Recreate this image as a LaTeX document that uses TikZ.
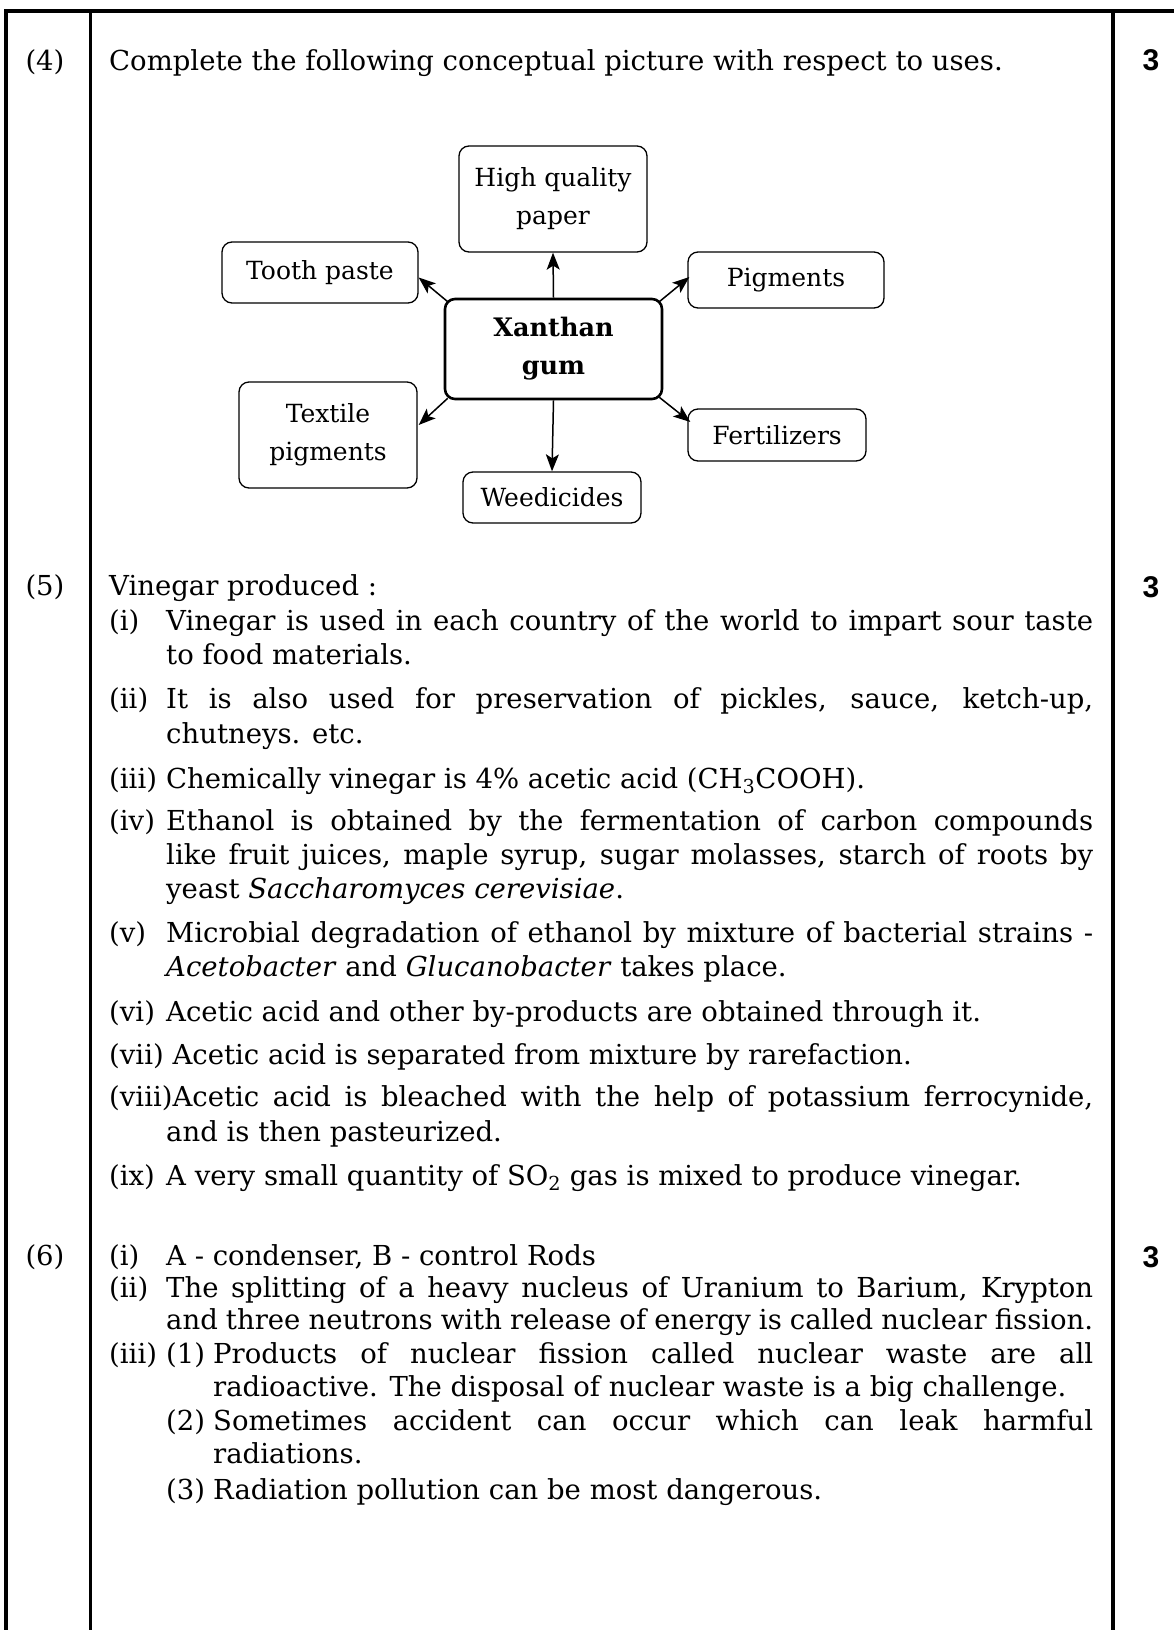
\documentclass[tikz,border=0pt]{standalone}
\usepackage{fontspec}
\setmainfont{DejaVu Serif}
\newfontfamily\markfont{Liberation Sans}
\usetikzlibrary{arrows.meta}
\newcommand\JL[2]{\hbox to #1pt{#2}}
\begin{document}
\begin{tikzpicture}[x=1pt,y=-1pt,
  txt/.style={anchor=base west, inner sep=0pt, font={\fontsize{27.5}{34}\selectfont}},
  lbl/.style={anchor=base, inner sep=0pt, font={\fontsize{27.5}{34}\selectfont}},
  markthree/.style={anchor=base, inner sep=0pt, font={\markfont\bfseries\fontsize{30}{34}\selectfont}},
  usebox/.style={draw, rounded corners=10pt, line width=1.3pt, align=center, inner sep=0pt, font={\fontsize{25}{38}\selectfont}},
  hub/.style={usebox, line width=2.6pt, font={\bfseries\fontsize{25.5}{38}\selectfont}},
  arr/.style={line width=1.5pt, -{Stealth[length=17pt,width=13pt,inset=4pt]}},
  frameline/.style={line width=4pt}]
\useasboundingbox (0,0) rectangle (1173,1630);
\fill[white] (0,0) rectangle (1173,1630);
% frame
\draw[frameline] (6,1632) -- (6,11) -- (1175,11);
\draw[line width=3pt] (90,11) -- (90,1632);
\draw[frameline] (1113,11) -- (1113,1632);

% ---------- (4)
\node[lbl] (q4) at (45,70) {(4)};
\node[txt] (q4t) at (109,70) {Complete the following conceptual picture with respect to uses.};
\node[markthree] (m4) at (1151,70) {3};

% diagram
\node[hub, minimum width=217pt, minimum height=100pt] (hubx) at (553.5,349) {Xanthan\\gum};
\node[usebox, minimum width=188pt, minimum height=106pt] (paper) at (553,199) {High quality\\paper};
\node[usebox, minimum width=196pt, minimum height=61pt] (tooth) at (320,272.5) {Tooth paste};
\node[usebox, minimum width=196pt, minimum height=56pt] (pigm) at (786,280) {Pigments};
\node[usebox, minimum width=178pt, minimum height=106pt] (textile) at (328,435) {Textile\\pigments};
\node[usebox, minimum width=178pt, minimum height=52pt] (fert) at (777,435) {Fertilizers};
\node[usebox, minimum width=178pt, minimum height=51pt] (weed) at (552,497.5) {Weedicides};

\draw[arr] (hubx.north) -- (paper.south);
\draw[arr] (hubx.south) -- (weed.north);
\draw[arr] ([shift={(4,4)}]hubx.north west) -- ([shift={(0,5)}]tooth.east);
\draw[arr] ([shift={(-4,4)}]hubx.north east) -- ([shift={(2,-3)}]pigm.west);
\draw[arr] ([shift={(4,-2)}]hubx.south west) -- ([shift={(1,-10)}]textile.east);
\draw[arr] ([shift={(-4,-3)}]hubx.south east) -- ([shift={(3,-13)}]fert.west);

% ---------- (5)
\node[lbl] (q5) at (45,595) {(5)};
\node[txt] (q5t) at (109,595) {Vinegar produced :};
\node[markthree] (m5) at (1151,597) {3};

\node[txt] (l1) at (109,630) {(i)};
\node[txt] (a1) at (166,630) {\JL{927}{Vinegar is used in each country of the world to impart sour taste}};
\node[txt] (a1b) at (166,664) {to food materials.};

\node[txt] (l2) at (109,708) {(ii)};
\node[txt] (a2) at (166,708) {\JL{927}{It is also used for preservation of pickles, sauce, ketch-up,}};
\node[txt] (a2b) at (166,743) {chutneys. etc.};

\node[txt] (l3) at (109,788) {(iii)};
\node[txt] (a3) at (166,788) {Chemically vinegar is 4\% acetic acid (CH\textsubscript{3}COOH).};

\node[txt] (l4) at (109,830) {(iv)};
\node[txt] (a4) at (166,830) {\JL{927}{Ethanol is obtained by the fermentation of carbon compounds}};
\node[txt] (a4b) at (166,864) {\JL{927}{like fruit juices, maple syrup, sugar molasses, starch of roots by}};
\node[txt] (a4c) at (166,898) {yeast \textit{Saccharomyces cerevisiae}.};

\node[txt] (l5) at (109,942) {(v)};
\node[txt] (a5) at (166,942) {\JL{927}{Microbial degradation of ethanol by mixture of bacterial strains -}};
\node[txt] (a5b) at (166,976) {\textit{Acetobacter} and \textit{Glucanobacter} takes place.};

\node[txt] (l6) at (109,1021) {(vi)};
\node[txt] (a6) at (166,1021) {Acetic acid and other by-products are obtained through it.};

\node[txt] (a7) at (109,1064) {(vii) Acetic acid is separated from mixture by rarefaction.};

\node[txt] (a8) at (109,1106) {\JL{984}{(viii)Acetic acid is bleached with the help of potassium ferrocynide,}};
\node[txt] (a8b) at (166,1141) {and is then pasteurized.};

\node[txt] (l9) at (109,1185) {(ix)};
\node[txt] (a9) at (166,1185) {A very small quantity of SO\textsubscript{2} gas is mixed to produce vinegar.};

% ---------- (6)
\node[lbl] (q6) at (45,1265) {(6)};
\node[markthree] (m6) at (1151,1267) {3};
\node[txt] (s1l) at (109,1265) {(i)};
\node[txt] (s1) at (166,1265) {A - condenser, B - control Rods};
\node[txt] (s2l) at (109,1297) {(ii)};
\node[txt] (s2) at (166,1297) {\JL{927}{The splitting of a heavy nucleus of Uranium to Barium, Krypton}};
\node[txt] (s2b) at (166,1329) {\JL{927}{and three neutrons with release of energy is called nuclear fission.}};
\node[txt] (s3l) at (109,1363) {(iii)};
\node[txt] (p1l) at (166,1363) {(1)};
\node[txt] (p1) at (213,1363) {\JL{880}{Products of nuclear fission called nuclear waste are all}};
\node[txt] (p1b) at (213,1396) {radioactive. The disposal of nuclear waste is a big challenge.};
\node[txt] (p2l) at (166,1430) {(2)};
\node[txt] (p2) at (213,1430) {\JL{880}{Sometimes accident can occur which can leak harmful}};
\node[txt] (p2b) at (213,1463) {radiations.};
\node[txt] (p3l) at (166,1499) {(3)};
\node[txt] (p3) at (213,1499) {Radiation pollution can be most dangerous.};
\end{tikzpicture}
\end{document}
